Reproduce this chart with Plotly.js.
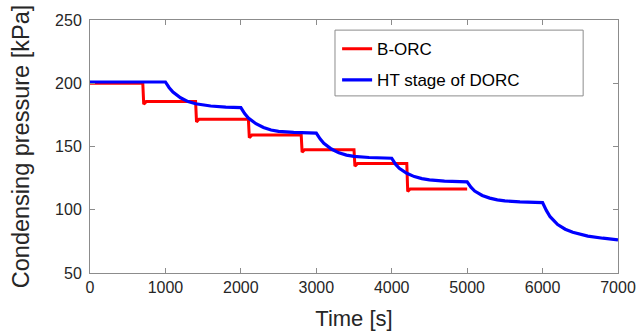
<!DOCTYPE html>
<html>
<head>
<meta charset="utf-8">
<script src="https://cdn.plot.ly/plotly-3.0.1.min.js"></script>
<style>html,body{margin:0;padding:0;background:#fff;}#chart{width:637px;height:335px;}</style>
</head>
<body>
<div id="chart"></div>
<script>
// B-ORC (stepwise, small undershoot at each step)
const borcTime = [0, 700, 712, 745, 1400, 1412, 1445, 2100, 2112, 2145, 2800, 2812, 2845, 3500, 3512, 3545, 4200, 4212, 4245, 5000];
const borcPressure = [200, 200, 183.5, 185.5, 185.5, 169.5, 171.5, 171.5, 157, 159, 159, 145.5, 147.5, 147.5, 134.5, 136.5, 136.5, 114.5, 116.5, 116.5];

// HT stage of DORC
const dorcTime = [0, 1000, 1050, 1100, 1200, 1300, 1400, 1500, 1600, 1800, 2000,
  2050, 2100, 2200, 2300, 2400, 2500, 2700, 3000,
  3050, 3100, 3200, 3300, 3400, 3500, 3700, 4000,
  4050, 4100, 4200, 4300, 4400, 4500, 4700, 5000,
  5050, 5100, 5200, 5300, 5400, 5500, 5700, 6000,
  6050, 6100, 6200, 6300, 6400, 6500, 6600, 6800, 7000];
const dorcPressure = [201, 201, 196.5, 193, 188.5, 185.5, 183.8, 182.8, 182, 181.2, 180.8,
  176, 172.5, 168, 165, 163, 162, 161.2, 160.6,
  156, 152.5, 148, 145, 143.2, 142.2, 141.3, 140.7,
  136, 132.8, 128.8, 126.2, 124.6, 123.6, 122.7, 122.1,
  117.8, 114.8, 111.3, 109.2, 107.8, 107, 106.2, 105.6,
  99.5, 94.5, 88.3, 84.6, 82.2, 80.5, 79.2, 77.5, 76.2];

const xTicks = [0, 1000, 2000, 3000, 4000, 5000, 6000, 7000];
const yTicks = [50, 100, 150, 200, 250];

const FONT = 'Liberation Sans, Arial, sans-serif';

const traces = [
  {x: borcTime, y: borcPressure, name: 'B-ORC', legendgroup: 'a', mode: 'lines', line: {color: '#ff0000', width: 3}},
  {x: dorcTime, y: dorcPressure, name: 'HT stage of DORC', legendgroup: 'b', mode: 'lines', line: {color: '#0000ff', width: 3.2}}
];

const axisCommon = {
  showline: true, linecolor: '#8c8c8c', linewidth: 1, mirror: 'ticks',
  ticks: 'inside', ticklen: 5, tickcolor: '#8c8c8c', tickwidth: 1,
  showgrid: false, zeroline: false,
  tickfont: {family: FONT, size: 16, color: '#262626'}
};

// legend frame (paper coords)
const legX0 = 0.464, legX1 = 0.934, legY0 = 0.70, legY1 = 0.960;

const layout = {
  width: 637, height: 335,
  margin: {l: 90, r: 19, t: 20, b: 62},
  paper_bgcolor: '#fff', plot_bgcolor: '#fff',
  showlegend: true,
  legend: {x: legX0 + 0.004, y: legY1 - 0.004, xanchor: 'left', yanchor: 'top',
    borderwidth: 0, bgcolor: 'rgba(0,0,0,0)',
    font: {family: FONT, size: 17, color: '#000'},
    tracegroupgap: 6},
  shapes: [{type: 'rect', xref: 'paper', yref: 'paper', x0: legX0, x1: legX1, y0: legY0, y1: legY1,
    line: {color: '#8c8c8c', width: 1}, fillcolor: '#fff', layer: 'above'}],
  xaxis: Object.assign({}, axisCommon, {
    range: [0, 7000], tickvals: xTicks, ticktext: xTicks.map(String),
    title: {text: 'Time [s]', font: {family: FONT, size: 22, color: '#262626'}, standoff: 15}
  }),
  yaxis: Object.assign({}, axisCommon, {
    range: [50, 250], tickvals: yTicks, ticktext: yTicks.map(String),
    ticklabelstandoff: 4,
    title: {text: 'Condensing pressure [kPa]', font: {family: FONT, size: 23.5, color: '#262626'}, standoff: 18}
  })
};

Plotly.newPlot('chart', traces, layout, {displayModeBar: false, staticPlot: true});
</script>
</body>
</html>
